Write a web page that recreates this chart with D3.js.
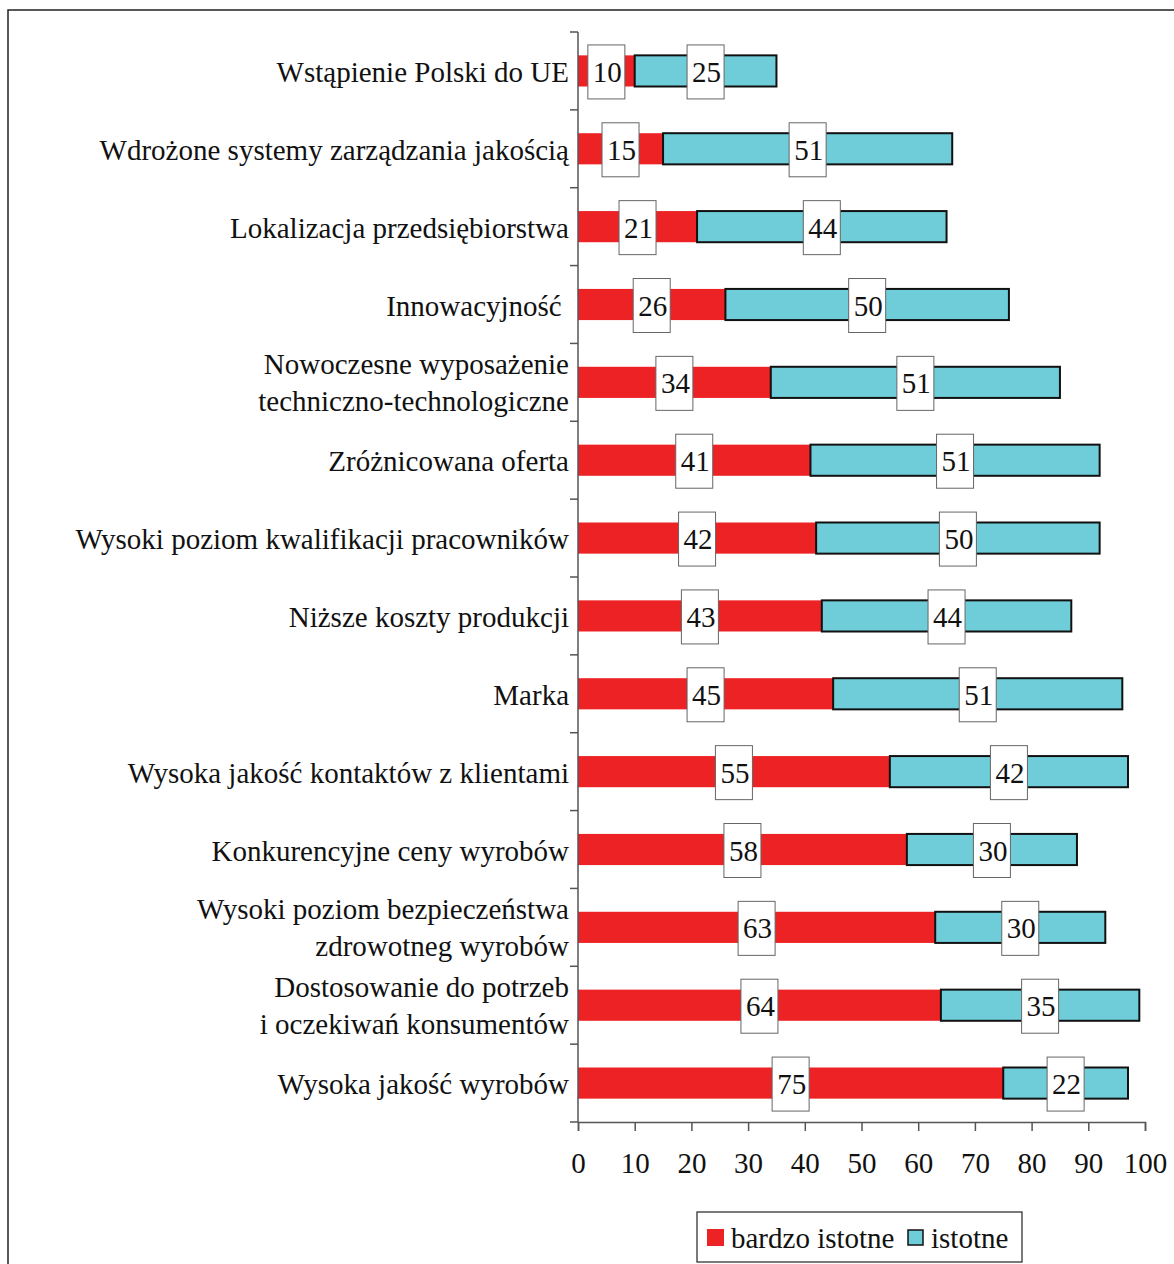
<!DOCTYPE html>
<html><head><meta charset="utf-8">
<script src="https://cdn.jsdelivr.net/npm/d3@7"></script>
<style>body{margin:0;background:#fff}svg{display:block}</style>
</head><body>
<script>
const categories = [
  ["Wstąpienie Polski do UE"],
  ["Wdrożone systemy zarządzania jakością"],
  ["Lokalizacja przedsiębiorstwa"],
  ["Innowacyjność "],
  ["Nowoczesne wyposażenie", "techniczno-technologiczne"],
  ["Zróżnicowana oferta"],
  ["Wysoki poziom kwalifikacji pracowników"],
  ["Niższe koszty produkcji"],
  ["Marka"],
  ["Wysoka jakość kontaktów z klientami"],
  ["Konkurencyjne ceny wyrobów"],
  ["Wysoki poziom bezpieczeństwa", "zdrowotneg wyrobów"],
  ["Dostosowanie do potrzeb", "i oczekiwań konsumentów"],
  ["Wysoka jakość wyrobów"]
];
const bardzoIstotne = [10, 15, 21, 26, 34, 41, 42, 43, 45, 55, 58, 63, 64, 75];
const istotne = [25, 51, 44, 50, 51, 51, 50, 44, 51, 42, 30, 30, 35, 22];
const xTicks = [0, 10, 20, 30, 40, 50, 60, 70, 80, 90, 100];
const seriesNames = ["bardzo istotne", "istotne"];
const colors = ["#ED2224", "#6FCDD9"];

const W = 1174, H = 1264;
const font = "'Liberation Serif', 'Times New Roman', serif";
const FS = 29;
const svg = d3.select("body").append("svg").attr("width", W).attr("height", H);

// frame
svg.append("rect").attr("x", 8).attr("y", 10).attr("width", 1200).attr("height", 1300)
  .attr("fill", "#fff").attr("stroke", "#222").attr("stroke-width", 1.5);

const x = d3.scaleLinear().domain([0, 100]).range([578, 1145]);
const idx = d3.range(categories.length);
const y = d3.scaleBand().domain(idx).range([32, 1122]).paddingInner(0.6).paddingOuter(0.3);
const yb = d3.scaleBand().domain(idx).range([32, 1122]);

// bars
const rows = svg.append("g").selectAll("g").data(idx).join("g");
rows.append("rect")
  .attr("x", x(0)).attr("y", i => y(i))
  .attr("width", i => x(bardzoIstotne[i]) - x(0)).attr("height", y.bandwidth())
  .attr("fill", colors[0]);
rows.append("rect")
  .attr("x", i => x(bardzoIstotne[i])).attr("y", i => y(i))
  .attr("width", i => x(bardzoIstotne[i] + istotne[i]) - x(bardzoIstotne[i])).attr("height", y.bandwidth())
  .attr("fill", colors[1]).attr("stroke", "#111").attr("stroke-width", 2);

// value labels
function addLabel(g, cx, cy, val) {
  g.append("rect").attr("x", cx - 18.5).attr("y", cy - 26).attr("width", 37).attr("height", 54)
    .attr("fill", "#fff").attr("stroke", "#666").attr("stroke-width", 1);
  g.append("text").attr("x", cx + 1).attr("y", cy + 11).attr("text-anchor", "middle")
    .attr("font-family", font).attr("font-size", FS).attr("fill", "#111").text(val);
}
rows.each(function(i) {
  const g = d3.select(this);
  const cy = y(i) + y.bandwidth() / 2;
  addLabel(g, (x(0) + x(bardzoIstotne[i])) / 2, cy, bardzoIstotne[i]);
  addLabel(g, (x(bardzoIstotne[i]) + x(bardzoIstotne[i] + istotne[i])) / 2, cy, istotne[i]);
});

// y axis
const axisColor = "#555";
svg.append("line").attr("x1", x(0)).attr("x2", x(0)).attr("y1", 32).attr("y2", 1122)
  .attr("stroke", axisColor).attr("stroke-width", 1.5);
svg.append("g").selectAll("line").data(d3.range(categories.length + 1)).join("line")
  .attr("x1", x(0) - 8).attr("x2", x(0))
  .attr("y1", i => i < categories.length ? yb(i) : 1122)
  .attr("y2", i => i < categories.length ? yb(i) : 1122)
  .attr("stroke", axisColor).attr("stroke-width", 1.5);

// category labels
svg.append("g").selectAll("text").data(idx).join("text")
  .attr("text-anchor", "end").attr("font-family", font).attr("font-size", FS).attr("fill", "#111")
  .attr("x", 569)
  .attr("y", i => yb(i) + yb.bandwidth() / 2)
  .each(function(i) {
    const lines = categories[i];
    const t = d3.select(this);
    lines.forEach((l, k) => {
      t.append("tspan").attr("x", 569)
        .attr("dy", k === 0 ? (lines.length === 1 ? 11 : -8) : 37)
        .attr("xml:space", "preserve")
        .text(l);
    });
  });

// x axis
const xAxis = d3.axisBottom(x).tickValues(xTicks).tickSize(9).tickPadding(21).tickFormat(d3.format("d"));
const gx = svg.append("g").attr("transform", "translate(0,1122)").call(xAxis);
gx.select(".domain").attr("stroke", axisColor).attr("stroke-width", 1.5);
gx.selectAll(".tick line").attr("stroke", axisColor).attr("stroke-width", 1.5);
gx.selectAll(".tick text").attr("font-family", font).attr("font-size", FS).attr("fill", "#111");

// legend
const lg = svg.append("g");
lg.append("rect").attr("x", 697).attr("y", 1212).attr("width", 325).attr("height", 50)
  .attr("fill", "#fff").attr("stroke", "#222").attr("stroke-width", 1.2);
lg.append("rect").attr("x", 707).attr("y", 1229).attr("width", 17).attr("height", 17).attr("fill", colors[0]);
lg.append("text").attr("x", 731).attr("y", 1248).attr("font-family", font).attr("font-size", FS).attr("fill", "#111").text(seriesNames[0]);
lg.append("rect").attr("x", 908).attr("y", 1230).attr("width", 15).attr("height", 15)
  .attr("fill", colors[1]).attr("stroke", "#111").attr("stroke-width", 1.5);
lg.append("text").attr("x", 931).attr("y", 1248).attr("font-family", font).attr("font-size", FS).attr("fill", "#111").text(seriesNames[1]);
</script>
</body></html>
